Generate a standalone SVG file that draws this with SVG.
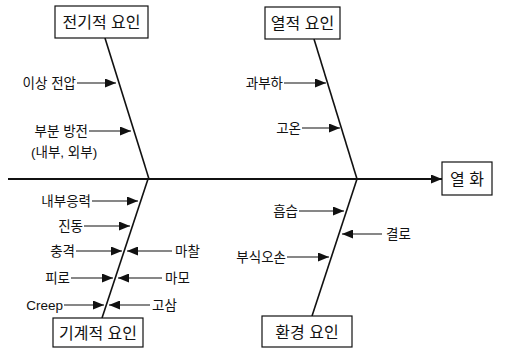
<svg xmlns="http://www.w3.org/2000/svg" width="507" height="350" viewBox="0 0 507 350">
  <style>
    .box { fill: #fff; stroke: #111; stroke-width: 1.2; }
    .bone { stroke: #111; stroke-width: 1.6; fill: none; }
    .spine { stroke: #111; stroke-width: 2; fill: none; }
    .arr { stroke: #111; stroke-width: 1.2; fill: none; marker-end: url(#head); }
    text { font-family: "Liberation Sans", "Noto Sans CJK KR", sans-serif; fill: #111; }
    .title { font-size: 16px; text-anchor: middle; dominant-baseline: central; }
    .lbl { font-size: 13.5px; dominant-baseline: central; }
    .l { text-anchor: end; }
    .r { text-anchor: start; }
  </style>
  <defs>
    <marker id="head" markerUnits="userSpaceOnUse" markerWidth="11" markerHeight="9" refX="11" refY="4.5" orient="auto">
      <path d="M0,0 L11,4.5 L0,9 z" fill="#111"/>
    </marker>
  </defs>

  <!-- main spine and category bones -->
  <g id="connectors">
    <line class="spine" x1="8" y1="179" x2="442" y2="179" style="marker-end:url(#head)"/>
    <line class="bone" x1="105" y1="38" x2="149" y2="179"/>
    <line class="bone" x1="314" y1="39" x2="357" y2="179"/>
    <line class="bone" x1="148" y1="179" x2="102" y2="318"/>
    <line class="bone" x1="357" y1="179" x2="312" y2="316"/>

    <!-- cause arrows -->
    <line class="arr" x1="77" y1="83" x2="116" y2="83"/>
    <line class="arr" x1="89" y1="131" x2="131" y2="131"/>
    <line class="arr" x1="284" y1="83" x2="326" y2="83"/>
    <line class="arr" x1="302" y1="128" x2="340" y2="128"/>
    <line class="arr" x1="92" y1="201" x2="138" y2="201"/>
    <line class="arr" x1="84" y1="226" x2="130" y2="226"/>
    <line class="arr" x1="76" y1="251" x2="122" y2="251"/>
    <line class="arr" x1="172" y1="251" x2="127" y2="251"/>
    <line class="arr" x1="71" y1="278" x2="113" y2="278"/>
    <line class="arr" x1="162" y1="278" x2="118" y2="278"/>
    <line class="arr" x1="64" y1="305" x2="104" y2="305"/>
    <line class="arr" x1="150" y1="305" x2="109" y2="305"/>
    <line class="arr" x1="299" y1="211" x2="344" y2="211"/>
    <line class="arr" x1="382" y1="234" x2="342" y2="234"/>
    <line class="arr" x1="287" y1="257" x2="329" y2="257"/>
  </g>

  <!-- category boxes -->
  <g id="electrical">
    <rect class="box" x="55" y="6" width="93" height="32"/>
    <text class="title" x="101.5" y="22">전기적 요인</text>
  </g>
  <g id="thermal">
    <rect class="box" x="265" y="7" width="75" height="32"/>
    <text class="title" x="302.5" y="23">열적 요인</text>
  </g>
  <g id="mechanical">
    <rect class="box" x="53" y="318" width="90" height="29"/>
    <text class="title" x="98" y="333">기계적 요인</text>
  </g>
  <g id="environmental">
    <rect class="box" x="262" y="316" width="90" height="31"/>
    <text class="title" x="307" y="332">환경 요인</text>
  </g>
  <g id="degradation">
    <rect class="box" x="442" y="162" width="50" height="33"/>
    <text class="title" x="467" y="179">열 화</text>
  </g>

  <!-- cause labels -->
  <g id="causes">
    <text class="lbl l" x="76" y="83">이상 전압</text>
    <text class="lbl l" x="88" y="131">부분 방전</text>
    <text class="lbl" x="31" y="152">(내부, 외부)</text>
    <text class="lbl l" x="283" y="83">과부하</text>
    <text class="lbl l" x="301" y="128">고온</text>
    <text class="lbl l" x="91" y="201">내부응력</text>
    <text class="lbl l" x="83" y="226">진동</text>
    <text class="lbl l" x="75" y="251">충격</text>
    <text class="lbl r" x="175" y="251">마찰</text>
    <text class="lbl l" x="70" y="278">피로</text>
    <text class="lbl r" x="165" y="278">마모</text>
    <text class="lbl l" x="63" y="305">Creep</text>
    <text class="lbl r" x="152" y="305">고삼</text>
    <text class="lbl l" x="298" y="211">흡습</text>
    <text class="lbl r" x="386" y="234">결로</text>
    <text class="lbl l" x="286" y="257">부식오손</text>
  </g>
</svg>
